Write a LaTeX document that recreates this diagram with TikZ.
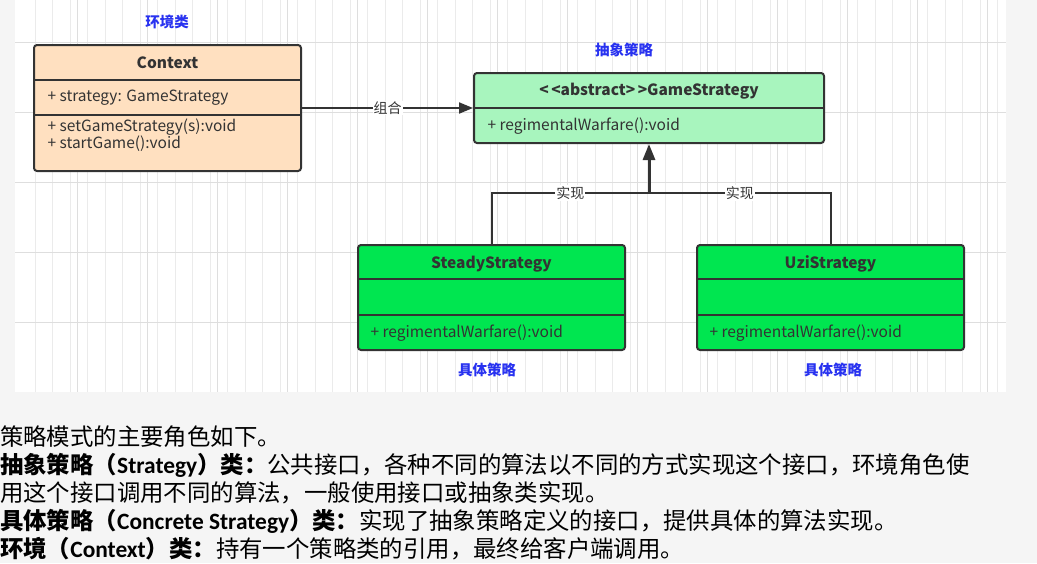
\documentclass[tikz,border=0pt]{standalone}
\usepackage{fontspec}
\setmainfont{Noto Sans CJK SC}
\newfontfamily\latinfont{Carlito}
\usetikzlibrary{arrows.meta,positioning}
\definecolor{ctxfill}{RGB}{255,224,192}
\definecolor{absfill}{RGB}{168,245,190}
\definecolor{concfill}{RGB}{0,230,80}
\definecolor{edge}{RGB}{51,51,51}
\definecolor{notecol}{RGB}{40,50,240}
\tikzset{
  classbox/.style={draw=edge,line width=2pt,rounded corners=3pt,inner sep=0pt},
  cname/.style={font=\fontsize{15.5}{17}\selectfont\bfseries,text=edge},
  member/.style={font=\fontsize{15.5}{17}\selectfont,text=edge,anchor=west,align=left},
  rolenote/.style={font=\fontsize{14.5}{16}\selectfont\bfseries,text=notecol},
  link/.style={draw=edge,line width=2pt},
  linklabel/.style={fill=white,font=\fontsize{14}{15}\selectfont,text=edge,inner sep=1pt},
  textline/.style={anchor=west,inner sep=0pt,font=\fontsize{23.4}{26}\selectfont,text=black}
}
\begin{document}
\begin{tikzpicture}[x=1pt,y=-1pt]
\useasboundingbox (0,0) rectangle (1037,563);
% background and grid
\fill[gray!8] (0,0) rectangle (1037,563);
\fill[white] (15,0) rectangle (1006,392);
\draw[gray!16,line width=1pt] (25,0) grid[xstep=17.5,ystep=17.5] (1005,392);
\foreach \gx in {77.5,147.5,...,1000} \draw[gray!26,line width=1.2pt] (\gx,0) -- (\gx,392);
\foreach \gy in {42.3,112.3,...,392} \draw[gray!26,line width=1.2pt] (15,\gy) -- (1006,\gy);
% classes
\node[classbox,fill=ctxfill,minimum width=267pt,minimum height=126pt] (context) at (167.5,108) {};
\draw[edge,line width=2pt] (34,80) -- (301,80);
\draw[edge,line width=2pt] (34,115) -- (301,115);
\node[cname] (contextname) at (167.5,63) {Context};
\node[member] (contextattr) at (44,98) {+ strategy: GameStrategy};
\node[member] (contextops) at (44,135) {+ setGameStrategy(s):void\\+ startGame():void};
\node[classbox,fill=absfill,minimum width=350pt,minimum height=70pt] (game) at (649,108) {};
\draw[edge,line width=2pt] (474,108) -- (824,108);
\node[cname] (gamename) at (649,91) {<\,<abstract>\,>GameStrategy};
\node[member] (gameops) at (484,126) {+ regimentalWarfare():void};
\node[classbox,fill=concfill,minimum width=267pt,minimum height=105pt] (steady) at (491.5,297.5) {};
\draw[edge,line width=2pt] (358,279) -- (625,279);
\draw[edge,line width=2pt] (358,315) -- (625,315);
\node[cname] (steadyname) at (491.5,264) {SteadyStrategy};
\node[member] (steadyops) at (367,333) {+ regimentalWarfare():void};
\node[classbox,fill=concfill,minimum width=267pt,minimum height=105pt] (uzi) at (830.5,297.5) {};
\draw[edge,line width=2pt] (697,279) -- (964,279);
\draw[edge,line width=2pt] (697,315) -- (964,315);
\node[cname] (uziname) at (830.5,264) {UziStrategy};
\node[member] (uziops) at (706,333) {+ regimentalWarfare():void};
% role notes
\node[rolenote] (ctxnote) at (167,22) {环境类};
\node[rolenote] (absnote) at (624,50) {抽象策略};
\node[rolenote] (steadynote) at (487,370) {具体策略};
\node[rolenote] (uzinote) at (833,370) {具体策略};
% connectors
\draw[link,-{Triangle[length=14pt,width=11pt]}] (context.east) -- node[linklabel] {组合} (game.west);
\coordinate (join) at (649,193);
\draw[link] (steady.north) |- node[linklabel,pos=0.75] {实现} (join);
\draw[link] (uzi.north) |- node[linklabel,pos=0.75] {实现} (join);
\draw[link,line width=3pt,-{Triangle[length=16pt,width=12pt]}] (join) -- (game.south);
% explanation text
\node[textline] (line1) at (0,437) {策略模式的主要角色如下。};
\node[textline] (line2) at (0,465) {\textbf{抽象策略（{\latinfont Strategy}）类：}公共接口，各种不同的算法以不同的方式实现这个接口，环境角色使};
\node[textline] (line3) at (0,493) {用这个接口调用不同的算法，一般使用接口或抽象类实现。};
\node[textline] (line4) at (0,521) {\textbf{具体策略（{\latinfont Concrete Strategy}）类：}实现了抽象策略定义的接口，提供具体的算法实现。};
\node[textline] (line5) at (0,549) {\textbf{环境（{\latinfont Context}）类：}持有一个策略类的引用，最终给客户端调用。};
\end{tikzpicture}
\end{document}
